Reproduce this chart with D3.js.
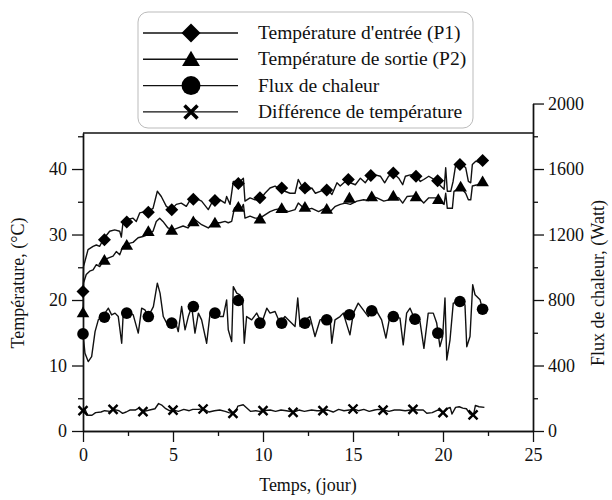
<!DOCTYPE html>
<html>
<head>
<meta charset="utf-8">
<script src="https://cdn.jsdelivr.net/npm/d3@7"></script>
<style>
  body { margin: 0; background: #fff; }
  svg text { font-family: "Liberation Serif", "Times New Roman", serif; fill: #111; }
</style>
</head>
<body>
<div id="chart"></div>
<script>
// inlet temperature P1 (day, °C)
const p1Days = [0,0.03,0.28,0.56,0.74,0.93,1.11,1.48,1.76,2.04,2.13,2.22,2.5,2.78,2.96,3.15,3.43,3.61,3.89,4.13,4.35,4.63,4.91,5.18,5.46,5.74,6.02,6.22,6.59,6.96,7.24,7.61,7.89,7.98,8.17,8.35,8.72,8.91,9.0,9.28,9.56,9.83,10.11,10.39,10.67,11.04,11.5,11.78,11.96,12.15,12.43,12.71,12.91,13.18,13.56,13.83,14.11,14.29,14.57,14.85,15.13,15.41,15.68,15.96,16.24,16.52,16.76,16.98,17.26,17.54,17.76,17.91,18.18,18.46,18.74,18.93,19.21,19.68,19.87,20.06,20.15,20.24,20.43,20.56,20.71,20.89,21.07,21.26,21.41,21.54,21.63,21.82,22.0,22.28];
const p1Temp = [21.3,25.1,27.7,28.2,28.4,28.2,29.2,30.5,30.7,30.5,29.6,31.8,32.3,32.5,32.0,33.3,33.5,33.5,34.0,36.6,35.8,34.3,33.8,34.6,34.8,34.3,35.6,35.6,35.1,33.8,35.3,35.3,34.8,35.8,34.6,38.1,38.1,38.6,35.1,35.6,35.3,35.3,36.3,37.1,37.4,36.8,36.3,36.3,38.4,37.4,36.6,37.1,36.3,36.6,37.0,36.1,37.9,37.4,38.1,37.9,37.6,38.6,37.9,39.0,39.1,38.9,37.9,38.9,39.3,38.6,37.6,38.9,39.1,39.1,38.1,38.4,38.9,38.1,37.4,36.9,40.2,36.6,36.6,38.1,40.7,40.8,40.7,40.2,38.1,37.9,40.7,41.2,41.0,41.2];

// outlet temperature P2 (day, °C)
const p2Days = [0,0.03,0.18,0.37,0.56,0.74,0.93,1.11,1.39,1.67,1.85,2.04,2.22,2.5,2.78,3.06,3.33,3.61,3.89,4.07,4.26,4.44,4.72,5.0,5.28,5.56,5.83,6.11,6.22,6.59,6.96,7.24,7.61,7.89,8.07,8.26,8.41,8.63,8.82,8.91,9.0,9.28,9.56,9.83,10.11,10.39,10.67,11.04,11.41,11.78,11.96,12.15,12.43,12.71,13.09,13.37,13.74,14.02,14.29,14.57,14.85,15.22,15.59,15.87,16.06,16.33,16.71,16.98,17.26,17.54,17.76,18.0,18.37,18.65,18.93,19.21,19.59,19.78,20.06,20.15,20.24,20.52,20.61,20.79,21.07,21.26,21.41,21.54,21.63,21.91,22.18,22.28];
const p2Temp = [18.0,22.6,23.9,24.4,24.6,25.4,25.1,25.9,26.4,26.7,27.4,26.9,28.2,28.6,28.8,29.5,29.7,30.0,30.5,32.0,32.5,32.0,31.0,30.7,31.0,31.3,31.0,32.0,32.3,31.5,31.0,31.8,31.8,32.0,31.8,32.0,34.0,34.6,34.0,34.6,32.5,32.8,32.5,32.5,33.0,33.5,33.8,34.0,33.5,33.8,34.8,34.3,33.8,34.0,33.5,33.9,33.5,34.3,34.6,34.8,34.6,35.1,35.3,35.2,35.8,35.6,35.1,35.3,35.8,35.6,34.8,35.8,35.9,35.6,34.8,35.6,35.6,35.1,34.6,36.3,34.0,34.0,36.6,36.9,36.9,36.3,35.3,35.3,37.4,37.6,37.9,38.0];

// heat flux (day, W)
const fluxDays = [0,0.11,0.29,0.48,0.67,0.85,1.04,1.22,1.41,1.59,1.78,1.96,2.15,2.24,2.52,2.79,3.07,3.26,3.44,3.63,3.91,4.13,4.28,4.46,4.65,4.93,5.11,5.29,5.48,5.67,5.85,6.04,6.22,6.41,6.59,6.87,7.06,7.33,7.61,7.79,7.98,8.07,8.26,8.35,8.54,8.72,8.87,8.96,9.09,9.37,9.65,9.93,10.21,10.39,10.67,10.94,11.22,11.5,11.78,11.93,12.06,12.33,12.61,12.89,13.17,13.44,13.72,13.82,14.0,14.28,14.46,14.83,15.02,15.29,15.57,15.85,16.04,16.32,16.59,16.83,17.06,17.33,17.61,17.79,17.98,18.17,18.44,18.72,18.94,19.18,19.46,19.65,19.83,19.98,20.11,20.21,20.39,20.57,20.94,21.22,21.32,21.5,21.65,21.78,22.06,22.2];
const fluxWatt = [593,475,424,454,607,679,699,720,750,709,720,699,536,730,730,709,598,750,740,699,760,903,842,699,659,638,679,607,760,618,699,760,598,720,679,536,720,730,699,699,801,618,546,882,842,832,781,536,699,679,720,659,750,720,730,659,699,669,638,812,638,679,699,577,679,689,699,536,679,699,720,587,720,781,740,699,740,730,679,567,709,699,689,526,720,750,679,669,505,720,720,659,515,577,812,434,557,781,791,771,515,577,893,832,801,740];

// temperature difference (day, °C)
const dtDays = [0,0.1,0.25,0.5,0.7,1.0,1.2,1.5,1.7,2.0,2.2,2.4,2.6,2.9,3.1,3.4,3.7,4.0,4.2,4.4,4.6,4.8,5.0,5.3,5.6,5.9,6.1,6.4,6.7,7.0,7.3,7.6,7.9,8.1,8.3,8.5,8.6,8.9,9.1,9.3,9.6,9.8,10.0,10.4,10.7,11.0,11.3,11.7,12.0,12.3,12.7,13.0,13.3,13.6,13.9,14.2,14.5,14.8,15.0,15.3,15.6,15.9,16.2,16.4,16.7,17.0,17.3,17.6,17.9,18.2,18.3,18.6,18.9,19.1,19.4,19.7,19.9,20.0,20.2,20.4,20.5,20.7,20.9,21.1,21.3,21.5,21.7,21.8,22.0,22.3];
const dtTemp = [3.1,3.4,2.4,2.4,2.8,2.9,3.1,3.0,3.3,3.1,2.7,2.9,3.2,3.2,3.5,3.0,3.2,3.4,4.2,3.9,3.4,3.1,3.2,3.0,3.3,3.1,3.3,3.3,3.4,2.9,3.1,3.2,3.0,2.8,2.7,3.0,3.8,4.0,3.5,3.0,3.1,3.0,3.1,3.2,3.0,3.2,3.1,2.9,3.2,3.0,3.2,3.1,3.1,3.2,2.9,3.3,3.1,3.2,3.4,3.1,3.3,3.0,3.2,3.3,3.2,3.0,3.2,3.2,3.1,3.2,3.3,3.2,3.2,2.7,2.8,3.2,3.1,2.7,3.4,3.6,2.6,3.6,3.7,3.5,3.4,2.6,2.5,3.9,3.7,3.6];

// symbols drawn on the curves
const p1MarkDays = [0,1.19,2.43,3.63,4.93,6.13,7.33,8.63,9.83,11.04,12.33,13.54,14.74,15.99,17.24,18.5,19.7,20.94,22.2];
const p1MarkTemp = [21.3,29.2,31.9,33.4,33.8,35.4,35.2,37.8,35.6,37.1,37.1,36.8,38.4,39.0,39.4,38.9,38.2,40.7,41.3];
const p2MarkDays = [0,1.19,2.43,3.63,4.93,6.13,7.33,8.63,9.83,11.04,12.33,13.54,14.8,16.04,17.24,18.5,19.74,20.98,22.2];
const p2MarkTemp = [18.1,26.1,28.4,30.5,30.7,32.0,31.8,34.2,32.4,34.0,34.2,33.9,35.6,35.8,35.9,35.8,35.4,37.3,38.1];
const fluxMarkDays = [0,1.19,2.43,3.63,4.93,6.13,7.33,8.63,9.83,11.04,12.33,13.54,14.8,16.04,17.24,18.44,19.71,20.94,22.2];
const fluxMarkWatt = [593,695,720,699,659,760,720,797,659,659,659,679,710,734,699,683,598,791,744];
const dtMarkDays = [0,1.67,3.33,5,6.67,8.33,10,11.67,13.33,15,16.67,18.33,20,21.67];
const dtMarkTemp = [3.1,3.3,2.95,3.2,3.36,2.7,3.1,2.85,3.1,3.36,3.2,3.3,2.8,2.45];

const legendLabels = ["Température d'entrée (P1)", "Température de sortie (P2)", "Flux de chaleur", "Différence de température"];
const xTicks = [0, 5, 10, 15, 20, 25];
const yTicks = [0, 10, 20, 30, 40];
const y2Ticks = [0, 400, 800, 1200, 1600, 2000];

const W = 612, H = 500;
const svg = d3.select("#chart").append("svg").attr("width", W).attr("height", H);

const x = d3.scaleLinear().domain([0, 25]).range([83, 533]);
const y = d3.scaleLinear().domain([0, 45.5]).range([431, 133]);
const y2 = d3.scaleLinear().domain([0, 2000]).range([y(0), y(50)]);

// frame top line
svg.append("line").attr("x1", x(0)).attr("x2", x(25)).attr("y1", y(45.5)).attr("y2", y(45.5))
    .attr("stroke", "#111").attr("stroke-width", 1.4);

function styleAxis(g) {
    g.select(".domain").attr("stroke", "#111").attr("stroke-width", 1.4);
    g.selectAll(".tick line").attr("stroke", "#111").attr("stroke-width", 1.3);
    g.selectAll("text").attr("font-size", 18).attr("font-family", "Liberation Serif");
}

// minor ticks first, majors on top
svg.append("g").attr("transform", `translate(0,${y(0)})`)
    .call(d3.axisBottom(x).tickValues(d3.range(2.5, 25, 5)).tickSize(5).tickFormat("").tickSizeOuter(0))
    .call(styleAxis);
svg.append("g").attr("transform", `translate(0,${y(0)})`)
    .call(d3.axisBottom(x).tickValues(xTicks).tickSize(11).tickPadding(6).tickSizeOuter(0))
    .call(styleAxis);

svg.append("g").attr("transform", `translate(${x(0)},0)`)
    .call(d3.axisLeft(y).tickValues(d3.range(5, 46, 10)).tickSize(5).tickFormat("").tickSizeOuter(0))
    .call(styleAxis);
svg.append("g").attr("transform", `translate(${x(0)},0)`)
    .call(d3.axisLeft(y).tickValues(yTicks).tickSize(11).tickPadding(5).tickSizeOuter(0))
    .call(styleAxis);

svg.append("g").attr("transform", `translate(${x(25)},0)`)
    .call(d3.axisRight(y2).tickValues(d3.range(200, 2000, 400)).tickSize(5).tickFormat("").tickSizeOuter(0))
    .call(styleAxis);
svg.append("g").attr("transform", `translate(${x(25)},0)`)
    .call(d3.axisRight(y2).tickValues(y2Ticks).tickSize(11).tickPadding(4).tickSizeOuter(0).tickFormat(d3.format("d")))
    .call(styleAxis);

// axis titles
svg.append("text").attr("x", 308).attr("y", 491).attr("text-anchor", "middle")
    .attr("font-size", 18).text("Temps, (jour)");
svg.append("text").attr("transform", "translate(24,283) rotate(-90)").attr("text-anchor", "middle")
    .attr("font-size", 18).text("Température, (°C)");
svg.append("text").attr("transform", "translate(604,283) rotate(-90)").attr("text-anchor", "middle")
    .attr("font-size", 18).text("Flux de chaleur, (Watt)");

// lines
const series = [
    { days: p1Days, vals: p1Temp, scale: y },
    { days: p2Days, vals: p2Temp, scale: y },
    { days: fluxDays, vals: fluxWatt, scale: y2 },
    { days: dtDays, vals: dtTemp, scale: y }
];
series.forEach(s => {
    const line = d3.line().x((d, i) => x(s.days[i])).y(d => s.scale(d));
    svg.append("path").datum(s.vals).attr("d", line)
        .attr("fill", "none").attr("stroke", "#111").attr("stroke-width", 1.4)
        .attr("stroke-linejoin", "round");
});

// marker shapes
function diamond(g, cx, cy, r) {
    g.append("path").attr("d", `M${cx},${cy - r}L${cx + r},${cy}L${cx},${cy + r}L${cx - r},${cy}Z`).attr("fill", "#000");
}
function triangle(g, cx, cy, r) {
    g.append("path").attr("d", `M${cx},${cy - r}L${cx + r * 1.05},${cy + r * 0.8}L${cx - r * 1.05},${cy + r * 0.8}Z`).attr("fill", "#000");
}
function circle(g, cx, cy, r) {
    g.append("circle").attr("cx", cx).attr("cy", cy).attr("r", r).attr("fill", "#000");
}
function cross(g, cx, cy, r, w) {
    g.append("path").attr("d", `M${cx - r},${cy - r}L${cx + r},${cy + r}M${cx - r},${cy + r}L${cx + r},${cy - r}`)
        .attr("stroke", "#000").attr("stroke-width", w).attr("fill", "none");
}

const marks = svg.append("g");
p1MarkDays.forEach((d, i) => diamond(marks, x(d), y(p1MarkTemp[i]), 6.5));
p2MarkDays.forEach((d, i) => triangle(marks, x(d), y(p2MarkTemp[i]), 6));
fluxMarkDays.forEach((d, i) => circle(marks, x(d), y2(fluxMarkWatt[i]), 5.8));
dtMarkDays.forEach((d, i) => cross(marks, x(d), y(dtMarkTemp[i]), 4.5, 2.4));

// legend
const lg = svg.append("g");
lg.append("rect").attr("x", 138).attr("y", 12).attr("width", 335).attr("height", 116)
    .attr("rx", 10).attr("fill", "#fff").attr("stroke", "#bbb").attr("stroke-width", 1);
const drawers = [
    (cx, cy) => diamond(lg, cx, cy, 9.5),
    (cx, cy) => triangle(lg, cx, cy, 8.5),
    (cx, cy) => circle(lg, cx, cy, 9.5),
    (cx, cy) => cross(lg, cx, cy, 6.5, 3.5)
];
legendLabels.forEach((lab, i) => {
    const cy = 33 + i * 26.3;
    lg.append("line").attr("x1", 143).attr("x2", 238).attr("y1", cy).attr("y2", cy)
        .attr("stroke", "#111").attr("stroke-width", 1.4);
    drawers[i](191, cy);
    lg.append("text").attr("x", 258).attr("y", cy + 6).attr("font-size", 19.5).text(lab);
});
</script>
</body>
</html>
